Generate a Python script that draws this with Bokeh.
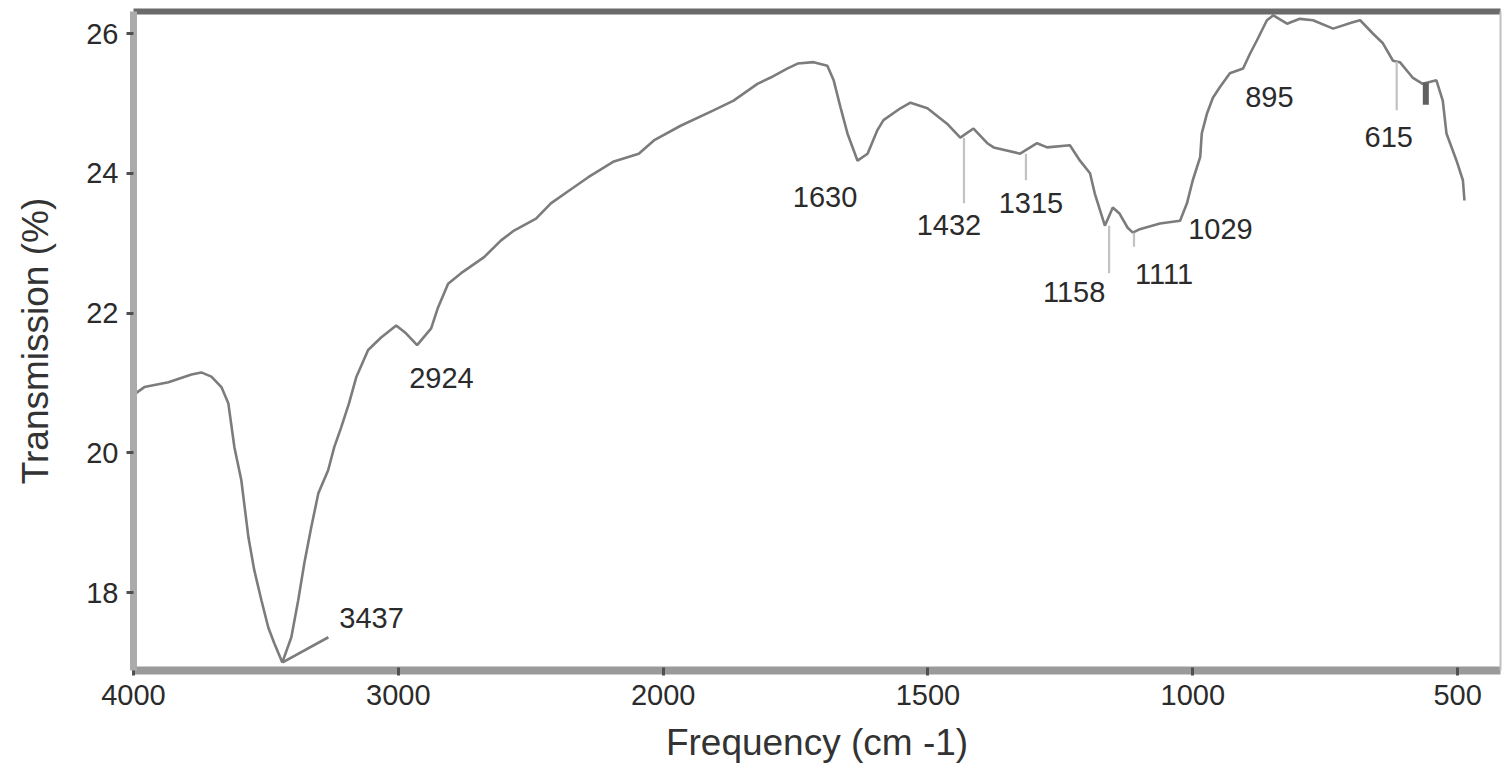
from bokeh.plotting import figure
from bokeh.models import Range1d, FixedTicker, LinearAxis, ColumnDataSource
from bokeh.core.properties import value
from bokeh.embed import file_html
from bokeh.resources import INLINE

# ---- data (wavenumber in cm-1, transmission in %) ----
wavenumber = [3996, 3959, 3868, 3781, 3744, 3706, 3668, 3642, 3619, 3593, 3566, 3544,
              3517, 3491, 3468, 3438, 3404, 3378, 3355, 3329, 3302, 3265, 3242, 3216,
              3186, 3159, 3114, 3065, 3008, 2971, 2929, 2876, 2850, 2812, 2763, 2676,
              2612, 2563, 2480, 2424, 2356, 2284, 2186, 2092, 2035, 1967, 1905, 1867,
              1822, 1797, 1765, 1746, 1716, 1690, 1678, 1665, 1652, 1633, 1614, 1596,
              1584, 1552, 1533, 1501, 1464, 1439, 1414, 1388, 1376, 1326, 1294, 1275,
              1232, 1213, 1194, 1185, 1166, 1151, 1138, 1123, 1113, 1100, 1062, 1024,
              1011, 1000, 986, 983, 973, 962, 949, 930, 905, 892, 879, 860, 848, 822,
              798, 773, 735, 698, 684, 660, 641, 622, 609, 585, 566, 540, 528, 521,
              502, 490, 487]
transmission = [20.84, 20.94, 21.01, 21.12, 21.15, 21.09, 20.94, 20.71, 20.08, 19.61, 18.79, 18.32,
                17.89, 17.50, 17.27, 17.00, 17.36, 17.89, 18.42, 18.93, 19.42, 19.75, 20.08, 20.36,
                20.71, 21.08, 21.47, 21.65, 21.82, 21.71, 21.54, 21.78, 22.08, 22.42, 22.57, 22.80,
                23.04, 23.18, 23.35, 23.57, 23.75, 23.94, 24.17, 24.28, 24.47, 24.68, 24.90, 25.04,
                25.28, 25.37, 25.50, 25.57, 25.59, 25.54, 25.33, 24.94, 24.57, 24.18, 24.28, 24.61,
                24.76, 24.93, 25.01, 24.93, 24.71, 24.51, 24.64, 24.43, 24.37, 24.28, 24.43, 24.37,
                24.40, 24.18, 24.00, 23.71, 23.25, 23.51, 23.42, 23.22, 23.15, 23.20, 23.28, 23.32,
                23.57, 23.90, 24.23, 24.57, 24.86, 25.08, 25.23, 25.43, 25.50, 25.71, 25.90, 26.19,
                26.26, 26.14, 26.21, 26.19, 26.07, 26.16, 26.19, 26.00, 25.86, 25.61, 25.59, 25.37,
                25.28, 25.33, 25.04, 24.57, 24.18, 23.90, 23.61]

peak_labels = ["3437", "2924", "1630", "1432", "1315", "1158", "1111", "1029", "895", "615"]
peak_wn = [3437, 2924, 1630, 1432, 1315, 1158, 1111, 1029, 895, 615]
peak_t = [17.00, 21.54, 24.18, 24.51, 24.28, 23.25, 23.15, 23.32, 25.50, 25.60]

# vertical marker lines under some peaks (start = peak, end = lower transmission)
marker_wn = [1432, 1315, 1158, 1111, 615]
marker_top = [24.51, 24.28, 23.25, 23.15, 25.60]
marker_bottom = [23.57, 23.90, 22.57, 22.95, 24.90]

# leader of the 3437 label
leader_wn = [3437, 3264]
leader_t = [17.00, 17.36]

# small unreadable mark near 560 cm-1
blob_wn = [560, 560]
blob_t = [25.30, 24.98]

x_tick_labels = [4000, 3000, 2000, 1500, 1000, 500]
y_ticks = [18, 20, 22, 24, 26]

x_label = "Frequency (cm -1)"
y_label = "Transmission (%)"


# the x axis of the original is expanded 2x below 2000 cm-1 (reversed)
def wn_to_axis(w):
    return (4000 - w) / 1000 if w >= 2000 else 2 + (2000 - w) / 500


# ---- styles ----
FONT = "Liberation Sans"
TXT = "#2b2b2b"
label_dx = [89, 23, -34, -15, 5, -35, 30, 43, 21, -8]
label_dy = [-44, 33, 36, 87, 49, 66, 41, 8, 29, 76]

p = figure(width=1502, height=772, output_backend="svg", toolbar_location=None,
           x_range=Range1d(0, 5.162), y_range=Range1d(16.884, 26.315),
           min_border_left=133, min_border_right=2, min_border_top=11, min_border_bottom=102,
           x_axis_label=x_label, y_axis_label=y_label)
p.outline_line_color = None
p.grid.visible = False
p.background_fill_color = "white"
p.border_fill_color = "white"

# spectrum
src = ColumnDataSource(dict(x=[wn_to_axis(w) for w in wavenumber], y=transmission))
p.line("x", "y", source=src, line_color="#7c7c7c", line_width=2.6)

# marker lines
p.segment(x0=[wn_to_axis(w) for w in marker_wn], y0=marker_top,
          x1=[wn_to_axis(w) for w in marker_wn], y1=marker_bottom,
          line_color="#c2c2c2", line_width=2.2)
p.line(x=[wn_to_axis(w) for w in leader_wn], y=leader_t, line_color="#7c7c7c", line_width=2.6)
p.line(x=[wn_to_axis(w) for w in blob_wn], y=blob_t, line_color="#606060", line_width=6)

# peak labels
lsrc = ColumnDataSource(dict(x=[wn_to_axis(w) for w in peak_wn], y=peak_t, text=peak_labels,
                             dx=label_dx, dy=label_dy))
p.text("x", "y", text="text", source=lsrc, x_offset="dx", y_offset="dy",
       text_align="center", text_baseline="middle",
       text_font=value(FONT), text_font_size="29px", text_color=TXT)

# axes
xa = p.xaxis[0]
xa.ticker = FixedTicker(ticks=[int(round(wn_to_axis(t))) for t in x_tick_labels])
xa.major_label_overrides = {int(round(wn_to_axis(t))): str(t) for t in x_tick_labels}
xa.axis_line_color = "#9a9a9a"
xa.axis_line_width = 8
xa.major_tick_line_color = "#505050"
xa.major_tick_line_width = 3
xa.major_tick_in = 3
xa.major_tick_out = 5
xa.minor_tick_line_color = None
xa.major_label_standoff = 9
xa.major_label_text_font = FONT
xa.major_label_text_font_size = "29px"
xa.major_label_text_color = TXT
xa.axis_label_text_font = FONT
xa.axis_label_text_font_size = "37px"
xa.axis_label_text_font_style = "normal"
xa.axis_label_text_color = "#333333"
xa.axis_label_standoff = 14

ya = p.yaxis[0]
ya.ticker = FixedTicker(ticks=y_ticks)
ya.axis_line_color = "#ababab"
ya.axis_line_width = 7
ya.major_tick_line_color = "#505050"
ya.major_tick_line_width = 3
ya.major_tick_in = 0
ya.major_tick_out = 7
ya.minor_tick_line_color = None
ya.major_label_standoff = 8
ya.major_label_text_font = FONT
ya.major_label_text_font_size = "29px"
ya.major_label_text_color = TXT
ya.axis_label_text_font = FONT
ya.axis_label_text_font_size = "37px"
ya.axis_label_text_font_style = "normal"
ya.axis_label_text_color = "#333333"
ya.axis_label_standoff = 27

# frame borders: dark top, light right
top = LinearAxis(ticker=FixedTicker(ticks=[]), axis_line_color="#6a6a6a", axis_line_width=6,
                 major_tick_line_color=None, minor_tick_line_color=None,
                 major_tick_in=0, major_tick_out=0, major_label_standoff=0)
p.add_layout(top, "above")
right = LinearAxis(ticker=FixedTicker(ticks=[]), axis_line_color="#c0c0c0", axis_line_width=2,
                   major_tick_line_color=None, minor_tick_line_color=None,
                   major_tick_in=0, major_tick_out=0, major_label_standoff=0)
p.add_layout(right, "right")

open("out.html", "w").write(file_html(p, INLINE))
